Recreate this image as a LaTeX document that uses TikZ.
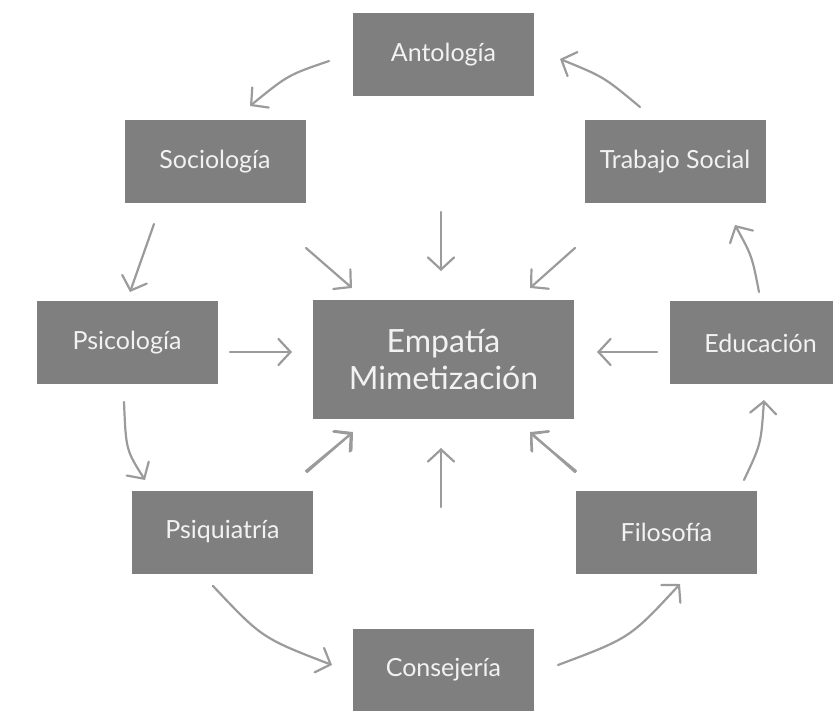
\documentclass[tikz,border=0pt]{standalone}
\usepackage{fontspec}
\setmainfont{Lato}
\usetikzlibrary{arrows.meta}
\definecolor{boxgray}{HTML}{7F7F7F}
\definecolor{txtgray}{HTML}{F2F2F2}
\definecolor{arrgray}{HTML}{9B9B9B}
\tikzset{
  boxnode/.style={fill=boxgray, text=txtgray, minimum width=181pt, minimum height=83pt, inner sep=0pt, font=\fontsize{25}{30}\selectfont, align=center},
  bignode/.style={boxnode, minimum width=261pt, minimum height=119pt, font=\fontsize{32}{37}\selectfont},
  arr/.style={draw=arrgray, line width=2.2pt, line cap=round, -{Straight Barb[length=12pt,width=26pt,line cap=round]}}
}
\begin{document}
\begin{tikzpicture}[x=1pt,y=-1pt]
\useasboundingbox (0,0) rectangle (833,711);
\clip (0,0) rectangle (833,711);
% boxes
\node[boxnode] (antologia) at (443.5,54.5) {Antología};
\node[boxnode] (sociologia) at (215,162) {Sociología};
\node[boxnode] (trabajo) at (675,162) {Trabajo Social};
\node[boxnode] (psicologia) at (127,343) {Psicología};
\node[bignode] (empatia) at (443.5,359.5) {Empatía\\Mimetización};
\node[boxnode] (educacion) at (760.5,343) {Educación};
\node[boxnode] (psiquiatria) at (222.5,532) {Psiquiatría};
\node[boxnode] (filosofia) at (666.5,532) {Filosofía};
\node[boxnode] (consejeria) at (443.5,670) {Consejería};
% arrow end points
\coordinate (a1) at (329,61);   \coordinate (a2) at (250,106);
\coordinate (b1) at (640,107);  \coordinate (b2) at (560,59);
\coordinate (c1) at (154,224);  \coordinate (c2) at (130,292);
\coordinate (d1) at (230,352);  \coordinate (d2) at (292,352);
\coordinate (e1) at (124,402);  \coordinate (e2) at (145,480);
\coordinate (f1) at (306,471);  \coordinate (f2) at (352,433);
\coordinate (g1) at (213,586);  \coordinate (g2) at (332,665);
\coordinate (h1) at (558,665);  \coordinate (h2) at (680,584);
\coordinate (i1) at (576,471);  \coordinate (i2) at (530,433);
\coordinate (j1) at (744,480);  \coordinate (j2) at (764,400);
\coordinate (k1) at (657,352);  \coordinate (k2) at (597,352);
\coordinate (l1) at (759,292);  \coordinate (l2) at (735,225);
\coordinate (m1) at (441,212);  \coordinate (m2) at (441,271);
\coordinate (n1) at (306,248);  \coordinate (n2) at (352,288);
\coordinate (o1) at (575,248);  \coordinate (o2) at (530,288);
\coordinate (p1) at (307,472);  \coordinate (p2) at (353,432);
\coordinate (q1) at (441,507);  \coordinate (q2) at (441,448);
\coordinate (r1) at (575,472);  \coordinate (r2) at (530,432);
% cycle arrows
\draw[arr] (a1) .. controls (288,75) .. (a2);
\draw[arr] (b1) .. controls (604,77) .. (b2);
\draw[arr] (c1) -- (c2);
\draw[arr] (e1) .. controls (126,450) .. (e2);
\draw[arr] (g1) .. controls (262,638) .. (g2);
\draw[arr] (h1) .. controls (630,638) .. (h2);
\draw[arr] (j1) .. controls (761,444) .. (j2);
\draw[arr] (l1) .. controls (752,256) .. (l2);
% arrows to the centre
\draw[arr] (d1) -- (d2);
\draw[arr] (f1) -- (f2);
\draw[arr] (i1) -- (i2);
\draw[arr] (k1) -- (k2);
\draw[arr] (m1) -- (m2);
\draw[arr] (n1) -- (n2);
\draw[arr] (o1) -- (o2);
\draw[arr] (p1) -- (p2);
\draw[arr] (q1) -- (q2);
\draw[arr] (r1) -- (r2);
\end{tikzpicture}
\end{document}
